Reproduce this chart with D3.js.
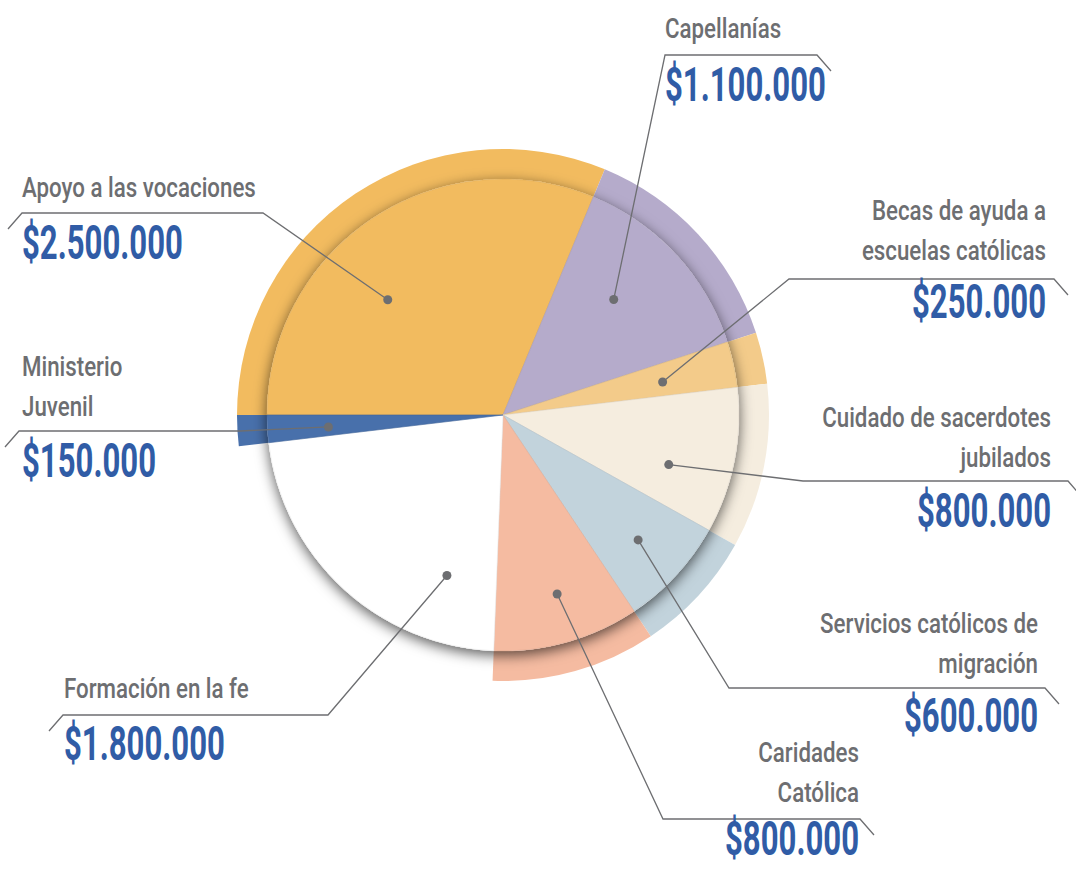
<!DOCTYPE html>
<html>
<head>
<meta charset="utf-8">
<script src="https://cdn.jsdelivr.net/npm/d3@7"></script>
<style>
  body { margin: 0; background: #fff; }
  svg { display: block; }
  .label { fill: #6d6e71; font-family: "Liberation Sans Narrow", "Roboto", sans-serif; font-size: 28px; font-weight: 500; }
  .value { fill: #305ca6; font-family: "Liberation Sans Narrow", "Roboto", sans-serif; font-size: 48px; font-weight: bold; }
  .leader { fill: none; stroke: #6d6e71; stroke-width: 1.3; }
</style>
</head>
<body>
<svg width="1076" height="869"></svg>
<script>
(function (d3) {
  "use strict";

  // data
  const categories = [
    "Apoyo a las vocaciones", "Capellanías", "Becas de ayuda a escuelas católicas",
    "Cuidado de sacerdotes jubilados", "Servicios católicos de migración",
    "Caridades Católica", "Formación en la fe", "Ministerio Juvenil"
  ];
  const labelLines = [
    ["Apoyo a las vocaciones"], ["Capellanías"], ["Becas de ayuda a", "escuelas católicas"],
    ["Cuidado de sacerdotes", "jubilados"], ["Servicios católicos de", "migración"],
    ["Caridades", "Católica"], ["Formación en la fe"], ["Ministerio", "Juvenil"]
  ];
  const values = [2500000, 1100000, 250000, 800000, 600000, 800000, 1800000, 150000];
  const colors = ["#f2bb5f", "#b5abcb", "#f3cb8a", "#f5eddf", "#c2d3dc", "#f5bba1", "#ffffff", "#4870ab"];
  const ringless = ["Formación en la fe"];

  // label placement (t = position along slice, r = dot radius)
  const layout = [
    { t: 0.40, r: 163, side: "left",  x: 22,   textY: 197, valueY: 259, lineY: 213, near: 263, far: 22 },
    { t: 0.43, r: 160, side: "left",  x: 665,  textY: 38,  valueY: 101, lineY: 55,  near: 665, far: 817 },
    { t: 0.56, r: 163, side: "right", x: 1046, textY: 220, valueY: 318, lineY: 279, near: 789, far: 1054 },
    { t: 0.65, r: 173, side: "right", x: 1051, textY: 427, valueY: 527, lineY: 481, near: 803, far: 1068 },
    { t: 0.50, r: 184, side: "right", x: 1038, textY: 633, valueY: 732, lineY: 688, near: 729, far: 1045 },
    { t: 0.47, r: 187, side: "right", x: 859,  textY: 762, valueY: 855, lineY: 819, near: 663, far: 860 },
    { t: 0.21, r: 170, side: "left",  x: 64,   textY: 698, valueY: 760, lineY: 715, near: 328, far: 63 },
    { t: 0.42, r: 175, side: "left",  x: 22,   textY: 376, valueY: 477, lineY: 431, near: 240, far: 19 }
  ];

  const svg = d3.select("svg");
  const cx = 503, cy = 415;
  const rOuter = 266, rInner = 236;
  const lineHeight = 40;

  const locale = d3.formatLocale({ decimal: ",", thousands: ".", grouping: [3], currency: ["$", ""] });
  const fmt = locale.format("$,");

  const defs = svg.append("defs");
  defs.append("filter")
    .attr("id", "shadow")
    .attr("x", "-20%").attr("y", "-20%").attr("width", "140%").attr("height", "140%")
    .append("feDropShadow")
    .attr("dx", 0).attr("dy", 4)
    .attr("stdDeviation", 7)
    .attr("flood-color", "#000")
    .attr("flood-opacity", 0.65);

  const pie = d3.pie().value((d) => d).sort(null)
    .startAngle(-Math.PI / 2).endAngle(1.5 * Math.PI);
  const arcs = pie(values);

  const arcOuter = d3.arc().innerRadius(0).outerRadius(rOuter);
  const arcInner = d3.arc().innerRadius(0).outerRadius(rInner);

  const g = svg.append("g").attr("transform", `translate(${cx},${cy})`);

  // outer ring
  g.append("g").selectAll("path")
    .data(arcs.filter((d, i) => !ringless.includes(categories[i])))
    .join("path")
    .attr("d", arcOuter)
    .attr("fill", (d) => colors[d.index]);

  // raised disk with shadow
  g.append("circle").attr("r", rInner).attr("fill", "#fff").attr("filter", "url(#shadow)");

  g.append("g").selectAll("path")
    .data(arcs)
    .join("path")
    .attr("d", arcInner)
    .attr("fill", (d) => colors[d.index])
    .attr("stroke", (d) => d3.color(colors[d.index]).darker(0.25))
    .attr("stroke-width", 0.6);

  // leader lines and dots
  const dotPos = (d, i) => {
    const a = d.startAngle + (d.endAngle - d.startAngle) * layout[i].t;
    return [cx + layout[i].r * Math.sin(a), cy - layout[i].r * Math.cos(a)];
  };

  arcs.forEach((d, i) => {
    const L = layout[i];
    const p = dotPos(d, i);
    const tickDx = L.far < L.near ? -14 : 14;
    const pts = [p, [L.near, L.lineY], [L.far, L.lineY], [L.far + tickDx, L.lineY + 16]];
    svg.append("path").attr("class", "leader").attr("d", d3.line()(pts));
    svg.append("circle").attr("cx", p[0]).attr("cy", p[1]).attr("r", 4.5).attr("fill", "#6d6e71");
  });

  // calibrate narrow type
  const probe = (cls, s) => {
    const t = svg.append("text").attr("class", cls).text(s);
    const w = t.node().getComputedTextLength();
    t.remove();
    return w;
  };
  const sLabel = 234 / probe("label", "Apoyo a las vocaciones");
  const sValue = 161 / probe("value", "$2.500.000");

  arcs.forEach((d, i) => {
    const L = layout[i];
    const anchor = L.side === "left" ? "start" : "end";
    labelLines[i].forEach((line, k) => {
      svg.append("text").attr("class", "label")
        .attr("text-anchor", anchor)
        .attr("transform", `translate(${L.x},${L.textY + k * lineHeight}) scale(${sLabel},1)`)
        .text(line);
    });
    svg.append("text").attr("class", "value")
      .attr("text-anchor", anchor)
      .attr("transform", `translate(${L.x},${L.valueY}) scale(${sValue},1)`)
      .text(fmt(values[i]));
  });
})(d3);
</script>
</body>
</html>
